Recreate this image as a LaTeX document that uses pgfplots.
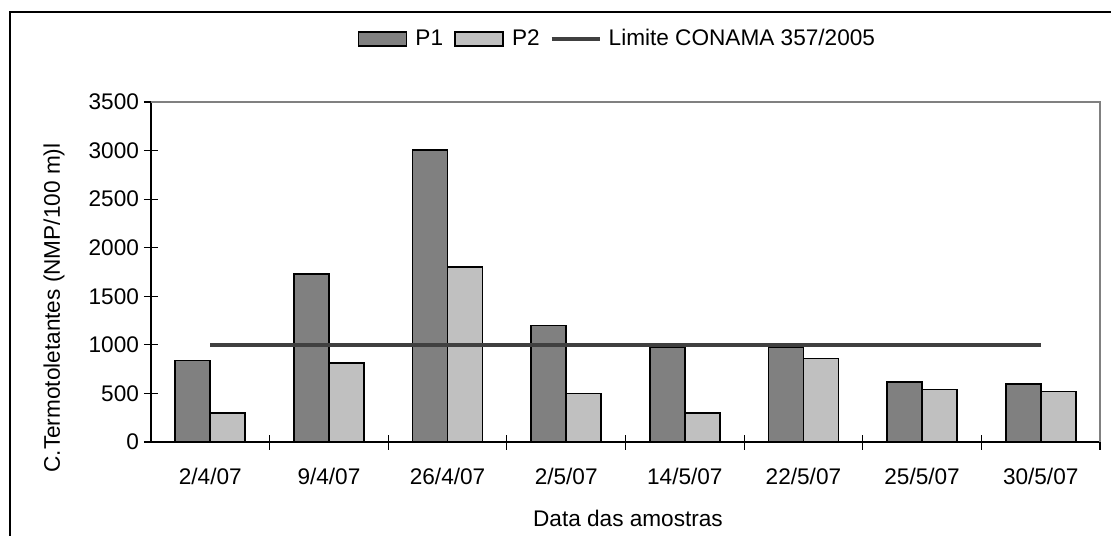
\documentclass[border=0pt]{standalone}
\usepackage{fontspec}
\setmainfont{Liberation Sans}
\usepackage{pgfplots}
\pgfplotsset{compat=1.18}
\definecolor{pone}{HTML}{808080}
\definecolor{ptwo}{HTML}{C0C0C0}
\definecolor{limc}{HTML}{404040}
\newcommand{\chartfont}{\fontsize{11.3}{13}\selectfont}
% legend images carry their own gaps: 6pt before, 4.5pt after
\pgfplotsset{
  barleg/.style={legend image code/.code={\path[draw=none,fill=none] (-6pt,0pt) -- (28.5pt,0pt);
    \draw[##1] (0pt,-3.5pt) rectangle (24pt,3.5pt);}},
  lineleg/.style={legend image code/.code={\path[draw=none,fill=none] (-6pt,0pt) -- (28.5pt,0pt);
    \draw[##1] (0pt,0pt) -- (24pt,0pt);}},
}

\begin{document}
\begin{tikzpicture}
% picture window: 1111x535 px at 0.5pt per px, axis corner at px (151,442)
\clip (-75.5pt,-46.5pt) rectangle (480pt,221pt);
\draw[line width=0.75pt] (-70.5pt,215pt) rectangle (520pt,-80pt);
\begin{axis}[
  at={(0pt,0pt)}, anchor=south west,
  scale only axis, width=474.5pt, height=170pt, clip=false,
  axis lines=left, axis line style={-, black, line width=0.6pt},
  xmin=-0.5, xmax=7.5, ymin=0, ymax=3500,
  xtick={0,...,7},
  xticklabels={2/4/07,9/4/07,26/4/07,2/5/07,14/5/07,22/5/07,25/5/07,30/5/07},
  major x tick style={draw=none},
  minor xtick={0.5,1.5,...,7.5},
  ytick={0,500,...,3500},
  tick align=center,
  major tick length=7pt, minor tick length=7.5pt,
  tick style={black, line width=0.6pt},
  ticklabel style={font=\chartfont},
  /pgf/number format/assume math mode=true,
  yticklabel style={/pgf/number format/1000 sep={}, xshift=1pt},
  xticklabel style={yshift=-6pt},
  legend columns=-1,
  legend style={draw=none, fill=none, font=\chartfont, inner sep=0pt,
    at={(axis description cs:0.2055,1.185)}, anchor=west,
    nodes={inner xsep=0pt},
    /tikz/every even column/.append style={column sep=0pt},
    /tikz/every odd column/.append style={column sep=0pt}},
]
\addplot[ybar, bar width=17.5pt, bar shift=-8.75pt, fill=pone, draw=black, line width=0.9pt, barleg]
  coordinates {(0,840) (1,1730) (2,3010) (3,1200) (4,980) (5,975) (6,620) (7,600)};
\addplot[ybar, bar width=17.5pt, bar shift=8.75pt, fill=ptwo, draw=black, line width=0.9pt, barleg]
  coordinates {(0,300) (1,810) (2,1800) (3,500) (4,300) (5,860) (6,540) (7,520)};
\addplot[color=limc, line width=2pt, mark=none, lineleg]
  coordinates {(0,1000) (1,1000) (2,1000) (3,1000) (4,1000) (5,1000) (6,1000) (7,1000)};
\legend{P1,P2,Limite CONAMA 357/2005}
\draw[gray, line width=0.6pt] (axis cs:-0.5,3500) -- (axis cs:7.5,3500) -- (axis cs:7.5,0);
\node[font=\chartfont, anchor=center] at (axis description cs:0.5026,-0.2235) {Data das amostras};
\node[font=\chartfont, anchor=center, rotate=90] at (axis description cs:-0.1022,0.394) {C.Termotoletantes (NMP/100 m)l};
\end{axis}
\end{tikzpicture}
\end{document}
